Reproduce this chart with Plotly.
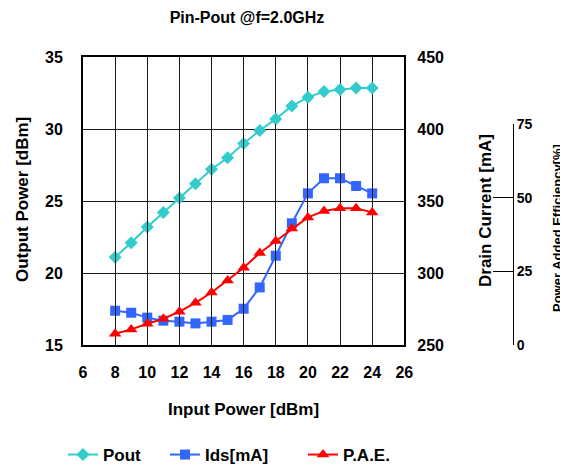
import plotly.graph_objects as go

pin = [8, 9, 10, 11, 12, 13, 14, 15, 16, 17, 18, 19, 20, 21, 22, 23, 24]
pout = [21.1, 22.1, 23.2, 24.2, 25.2, 26.2, 27.2, 28.0, 29.0, 29.9, 30.7, 31.6, 32.2, 32.6, 32.75, 32.85, 32.85]
ids = [273.8, 272.4, 269.0, 266.9, 266.2, 265.0, 266.2, 267.4, 275.2, 290.0, 312.0, 334.5, 355.3, 365.8, 365.8, 360.4, 355.3]
pae = [3.8, 5.3, 7.2, 8.9, 11.3, 14.3, 17.8, 21.9, 26.2, 31.2, 35.3, 39.5, 43.3, 45.5, 46.4, 46.4, 45.0]

x_ticks = [6, 8, 10, 12, 14, 16, 18, 20, 22, 24, 26]
pout_ticks = [15, 20, 25, 30, 35]
ids_ticks = [250, 300, 350, 400, 450]
pae_ticks = [0, 25, 50, 75]

FONT = "Arial, Liberation Sans, sans-serif"
OFF = 8  # page body margin
W, H = 568 - OFF, 467 - OFF
ML, MR, MT = 83 - OFF, 5, 57 - OFF
PH = 288
MB = H - MT - PH
PW = W - ML - MR
XDOM = 321.3 / PW

def px(x):
    return (x - OFF - ML) / PW

def py(y):
    return (MT + PH - (y - OFF)) / PH

fig = go.Figure()
fig.add_trace(go.Scatter(x=pin, y=pout, name="Pout", mode="lines+markers",
                         line=dict(color="#33CCCC", width=2),
                         marker=dict(symbol="diamond", size=10, color="#33CCCC"),
                         xaxis="x", yaxis="y", cliponaxis=False, legend="legend"))
fig.add_trace(go.Scatter(x=pin, y=ids, name="Ids[mA]", mode="lines+markers",
                         line=dict(color="#3366FF", width=2),
                         marker=dict(symbol="square", size=10, color="#3366FF"),
                         xaxis="x", yaxis="y2", cliponaxis=False, legend="legend2"))
fig.add_trace(go.Scatter(x=pin, y=pae, name="P.A.E.", mode="lines+markers",
                         line=dict(color="#FF0000", width=2),
                         marker=dict(symbol="triangle-up", size=11, color="#FF0000"),
                         xaxis="x", yaxis="y3", cliponaxis=False, legend="legend3"))

tickfont = dict(family=FONT, size=16, color="black", weight="bold")
grid = "#1a1a1a"
legfont = dict(family=FONT, size=17, color="black", weight="bold")

def leg(xv):
    return dict(orientation="h", x=px(xv), xanchor="left", y=py(455), yanchor="middle",
                font=legfont, bgcolor="rgba(0,0,0,0)")

fig.update_layout(
    width=W, height=H,
    margin=dict(l=ML, r=MR, t=MT, b=MB, autoexpand=False),
    paper_bgcolor="white", plot_bgcolor="rgba(0,0,0,0)",
    font=dict(family=FONT, color="black"),
    title=dict(text="<b>Pin-Pout @f=2.0GHz</b>", x=(247 - OFF) / W, xanchor="center",
               y=1 - (17 - OFF) / H, yanchor="middle",
               font=dict(family=FONT, size=16, color="black")),
    xaxis=dict(domain=[0, XDOM], range=[6, 26], tickvals=x_ticks,
               showgrid=True, gridcolor=grid, gridwidth=1,
               showline=True, linecolor="black", linewidth=2, mirror=True,
               zeroline=False, ticks="", tickfont=tickfont, ticklabelstandoff=12,
               anchor="y", automargin=False),
    yaxis=dict(domain=[0, 1], range=[15, 35], tickvals=pout_ticks,
               showgrid=True, gridcolor=grid, gridwidth=1,
               showline=True, linecolor="black", linewidth=2, mirror=True,
               zeroline=False, ticks="", tickfont=tickfont, ticklabelstandoff=15,
               anchor="x", automargin=False),
    yaxis2=dict(range=[250, 450], tickvals=ids_ticks, overlaying="y", side="right",
                anchor="x", showgrid=False, zeroline=False, showline=False,
                ticks="", tickfont=tickfont, ticklabelstandoff=12, automargin=False),
    yaxis3=dict(domain=[0, (344 - 123) / PH], range=[0, 75], tickvals=pae_ticks,
                anchor="free", position=px(513), side="right",
                showgrid=False, zeroline=False, showline=True, linecolor="black",
                linewidth=1, ticks="inside", ticklen=20, tickcolor="black",
                tickfont=dict(family=FONT, size=14, color="black", weight="bold"),
                automargin=False),
    legend=leg(63),
    legend2=leg(165),
    legend3=leg(303),
    showlegend=True,
)

ann_font = dict(family=FONT, size=17, color="black")
fig.add_annotation(text="<b>Output Power [dBm]</b>", x=px(22), y=py(200),
                   xref="paper", yref="paper", textangle=-90, showarrow=False,
                   xanchor="center", yanchor="middle", font=ann_font)
fig.add_annotation(text="<b>Input Power [dBm]</b>", x=px(243), y=py(409),
                   xref="paper", yref="paper", showarrow=False,
                   xanchor="center", yanchor="middle", font=ann_font)
fig.add_annotation(text="<b>Drain Current [mA]</b>", x=px(485), y=py(211),
                   xref="paper", yref="paper", textangle=-90, showarrow=False,
                   xanchor="center", yanchor="middle", font=ann_font)
fig.add_annotation(text="<b>Power Added Efficiency[%]</b>", x=px(557), y=py(228),
                   xref="paper", yref="paper", textangle=-90, showarrow=False,
                   xanchor="center", yanchor="middle",
                   font=dict(family=FONT, size=13, color="black"))

fig.write_html("out.html")
